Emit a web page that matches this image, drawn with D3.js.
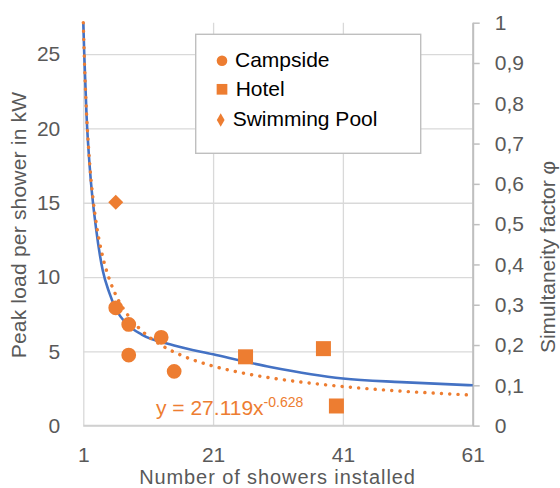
<!DOCTYPE html>
<html>
<head>
<meta charset="utf-8">
<script src="https://cdn.jsdelivr.net/npm/d3@7"></script>
<style>
  body { margin: 0; background: #fff; }
  svg text { font-family: "Liberation Sans", Arial, sans-serif; }
</style>
</head>
<body>
<svg id="chart"></svg>
<script>

// DATA //
var campsideX = [6, 8, 8, 13, 15];
var campsideY = [7.93, 6.81, 4.75, 5.94, 3.65];
var hotelX = [26, 38, 40];
var hotelY = [4.63, 5.18, 1.32];
var poolX = [6];
var poolY = [15.04];

// simultaneity factor curve (right axis)
var phiX = [1, 1.15, 1.5, 2, 3, 4, 5, 6, 8, 10, 15, 21, 30, 41, 50, 61];
var phiY = [1, 0.92, 0.77, 0.64, 0.485, 0.385, 0.33, 0.29, 0.248, 0.226, 0.199, 0.177, 0.145, 0.117, 0.108, 0.1];

// power trendline y = 27.119x^-0.628 (left axis)
var trendX = [1, 1.25, 1.5, 2, 2.5, 3, 4, 5, 6, 8, 10, 13, 16, 20, 25, 30, 35, 40, 45, 50, 55, 61];
var trendY = [27.119, 23.57, 21.02, 17.55, 15.25, 13.6, 11.35, 9.87, 8.8, 7.35, 6.39, 5.42, 4.75, 4.13, 3.59, 3.2, 2.91, 2.67, 2.48, 2.32, 2.19, 2.05];

var xTicks = [1, 21, 41, 61];
var yLeftTicks = [0, 5, 10, 15, 20, 25];
var yRightTicks = [0, 0.1, 0.2, 0.3, 0.4, 0.5, 0.6, 0.7, 0.8, 0.9, 1];
var legendNames = ["Campside", "Hotel", "Swimming Pool"];

var orange = "#ED7D31";
var blue = "#4472C4";
var axisGrey = "#595959";

var width = 560, height = 488;
var plot = { left: 83.3, right: 472.7, top: 22.7, bottom: 425.6 };

var svg = d3.select("#chart")
  .attr("width", width)
  .attr("height", height);

var x = d3.scaleLinear().domain([1, 61]).range([plot.left, plot.right]);
var yLeft = d3.scaleLinear().domain([0, 27.119]).range([plot.bottom, plot.top]);
var yRight = d3.scaleLinear().domain([0, 1]).range([plot.bottom, plot.top]);

// GRID + AXES //
var leftAxis = svg.append("g")
  .attr("transform", `translate(${plot.left},0)`)
  .call(d3.axisLeft(yLeft)
    .tickValues(yLeftTicks)
    .tickSize(-(plot.right - plot.left))
    .tickPadding(23));

var bottomAxis = svg.append("g")
  .attr("transform", `translate(0,${plot.bottom})`)
  .call(d3.axisBottom(x)
    .tickValues(xTicks)
    .tickSize(-(plot.bottom - plot.top)));

[leftAxis, bottomAxis].forEach(g => {
  g.select(".domain").remove();
  g.selectAll(".tick line")
    .attr("stroke", "#d9d9d9")
    .attr("stroke-width", 1.3);
  g.selectAll(".tick text")
    .attr("fill", axisGrey)
    .style("font-size", "21px");
});

// bottom tick labels sit on a baseline just above the title
bottomAxis.selectAll(".tick text")
  .attr("dy", null)
  .attr("y", 36);

// bottom axis line
svg.append("line")
  .attr("x1", plot.left).attr("x2", plot.right)
  .attr("y1", plot.bottom).attr("y2", plot.bottom)
  .attr("stroke", "#d0d0d0")
  .attr("stroke-width", 1.6);

var rightAxis = svg.append("g")
  .attr("transform", `translate(${plot.right},0)`)
  .call(d3.axisRight(yRight)
    .tickValues(yRightTicks)
    .tickSize(7)
    .tickSizeOuter(0)
    .tickPadding(15)
    .tickFormat(d => (d === 0 || d === 1) ? String(d) : d.toFixed(1).replace(".", ",")));

rightAxis.select(".domain")
  .attr("stroke", "#bfbfbf")
  .attr("stroke-width", 2);
rightAxis.selectAll(".tick line")
  .attr("stroke", "#bfbfbf")
  .attr("stroke-width", 1.5);
rightAxis.selectAll(".tick text")
  .attr("fill", axisGrey)
  .style("font-size", "21px");

// axis titles
svg.append("text")
  .attr("transform", "translate(26,225) rotate(-90)")
  .attr("text-anchor", "middle")
  .attr("fill", axisGrey)
  .style("font-size", "21px")
  .style("letter-spacing", "0.2px")
  .text("Peak load per shower in kW");

svg.append("text")
  .attr("transform", "translate(555,257) rotate(-90)")
  .attr("text-anchor", "middle")
  .attr("fill", axisGrey)
  .style("font-size", "21px")
  .text("Simultaneity factor φ");

svg.append("text")
  .attr("x", (138.3 + 416.7) / 2)
  .attr("y", 484)
  .attr("text-anchor", "middle")
  .attr("fill", axisGrey)
  .style("font-size", "20px")
  .style("letter-spacing", "0.9px")
  .text("Number of showers installed");

// LINES //
var phiLine = d3.line()
  .x((d, i) => x(phiX[i]))
  .y(d => yRight(d))
  .curve(d3.curveMonotoneX);

svg.append("path")
  .attr("d", phiLine(phiY))
  .attr("fill", "none")
  .attr("stroke", blue)
  .attr("stroke-width", 2.6);

var trendLine = d3.line()
  .x((d, i) => x(trendX[i]))
  .y(d => yLeft(d))
  .curve(d3.curveMonotoneX);

svg.append("path")
  .attr("d", trendLine(trendY))
  .attr("fill", "none")
  .attr("stroke", orange)
  .attr("stroke-width", 3.4)
  .attr("stroke-linecap", "round")
  .attr("stroke-dasharray", "0.1 8.2");

// POINTS //
var campside = campsideX.map((v, i) => [v, campsideY[i]]);
var hotel = hotelX.map((v, i) => [v, hotelY[i]]);
var pool = poolX.map((v, i) => [v, poolY[i]]);

svg.append("g").selectAll("path")
  .data(campside)
  .enter().append("path")
    .attr("d", d3.symbol(d3.symbolCircle, Math.PI * 7.4 * 7.4))
    .attr("transform", d => `translate(${x(d[0])},${yLeft(d[1])})`)
    .attr("fill", orange);

svg.append("g").selectAll("path")
  .data(hotel)
  .enter().append("path")
    .attr("d", d3.symbol(d3.symbolSquare, 15 * 15))
    .attr("transform", d => `translate(${x(d[0])},${yLeft(d[1])})`)
    .attr("fill", orange);

svg.append("g").selectAll("path")
  .data(pool)
  .enter().append("path")
    .attr("d", d3.symbol(d3.symbolSquare, 113))
    .attr("transform", d => `translate(${x(d[0])},${yLeft(d[1])}) rotate(45)`)
    .attr("fill", orange);

// trendline equation
var eq = svg.append("text")
  .attr("x", 156)
  .attr("y", 415)
  .attr("fill", orange)
  .style("font-size", "21px");
eq.append("tspan").text("y = 27.119x");
eq.append("tspan")
  .attr("dy", -8)
  .style("font-size", "14px")
  .text("-0.628");

// LEGEND //
svg.append("rect")
  .attr("x", 195.7)
  .attr("y", 34.3)
  .attr("width", 225)
  .attr("height", 119)
  .attr("fill", "#fff")
  .attr("stroke", "#bfbfbf")
  .attr("stroke-width", 1.4);

var legendSymbols = [
  d3.symbol(d3.symbolCircle, Math.PI * 5.3 * 5.3),
  d3.symbol(d3.symbolSquare, 10.7 * 10.7),
  d3.symbol(d3.symbolDiamond, 52)
];
var legendMarkX = [222, 222, 220.7];
var legendMarkY = [60.7, 89.3, 120];
var legendTextX = [235, 235.7, 232.7];
var legendTextY = [66.9, 96.2, 126];

var legend = svg.append("g").selectAll("g")
  .data(legendNames)
  .enter().append("g");

legend.append("path")
  .attr("d", (d, i) => legendSymbols[i]())
  .attr("transform", (d, i) => `translate(${legendMarkX[i]},${legendMarkY[i]})`)
  .attr("fill", orange);

legend.append("text")
  .attr("x", (d, i) => legendTextX[i])
  .attr("y", (d, i) => legendTextY[i])
  .attr("fill", "#000")
  .style("font-size", "21px")
  .text(d => d);

</script>
</body>
</html>
